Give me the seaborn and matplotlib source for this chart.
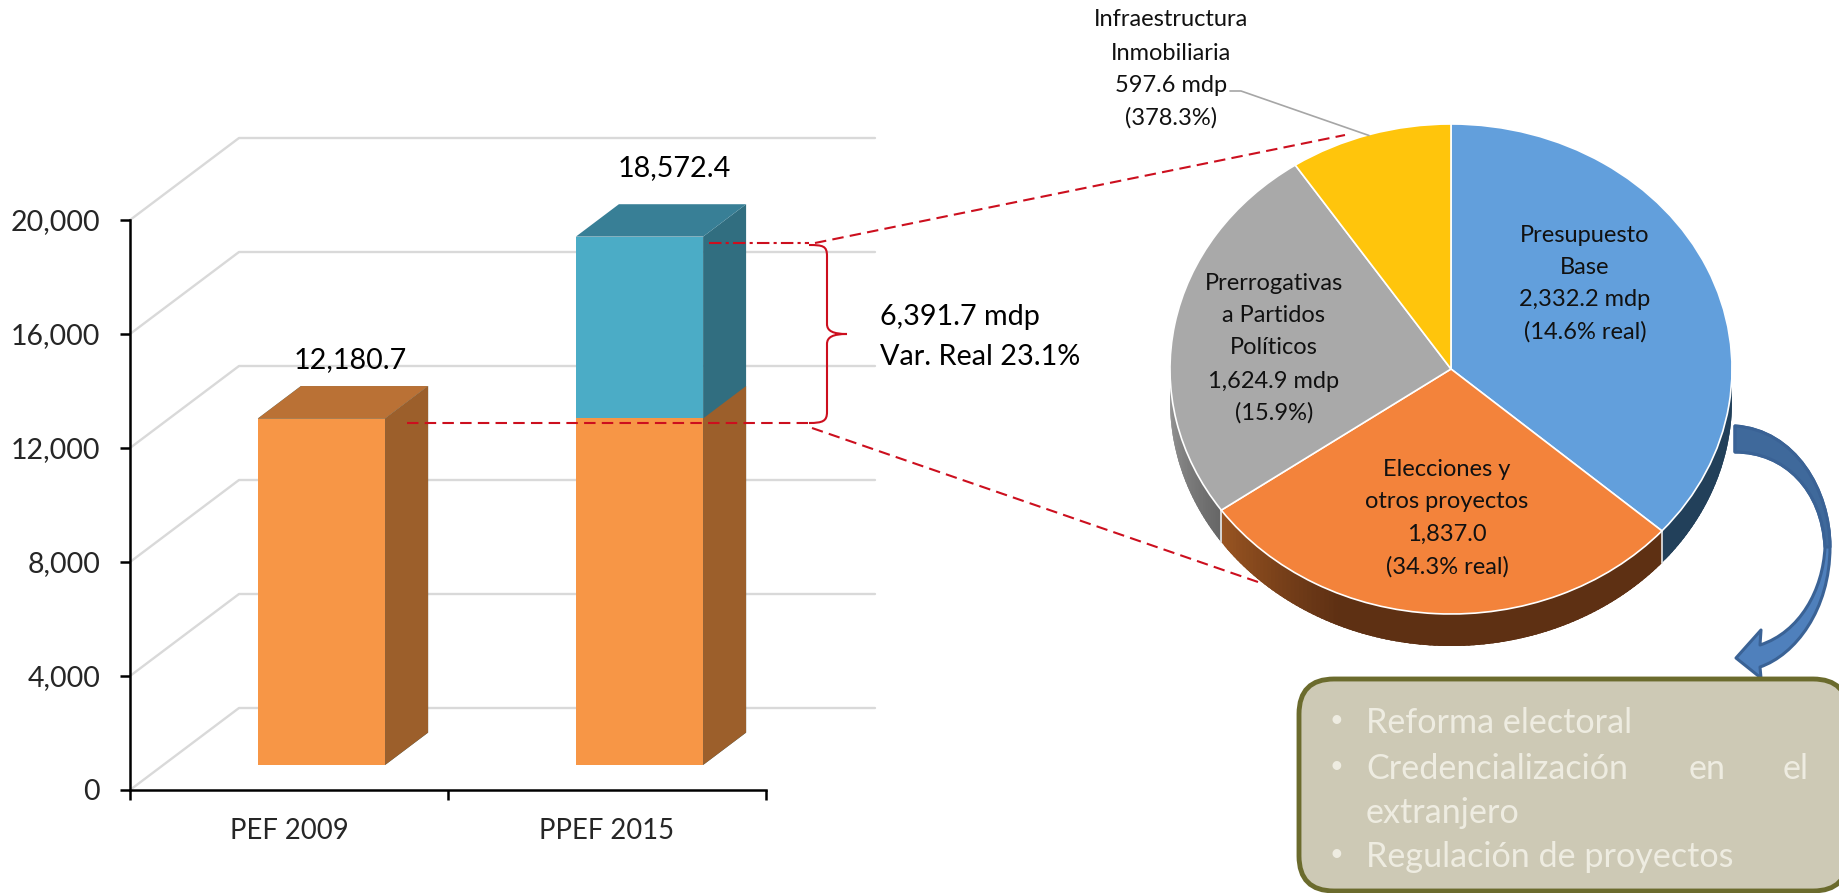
import matplotlib
matplotlib.use("Agg")
import matplotlib.pyplot as plt
import numpy as np
import seaborn as sns
from matplotlib.patches import Polygon, FancyBboxPatch, PathPatch
from matplotlib.path import Path
from matplotlib.transforms import IdentityTransform
from matplotlib.colors import to_rgb

# ---- data ----
categories = ["PEF 2009", "PPEF 2015"]
base_values = [12180.7, 12180.7]
total_values = [12180.7, 18572.4]
y_ticks = [0, 4000, 8000, 12000, 16000, 20000]

pie_names = ["Presupuesto Base", "Elecciones y otros proyectos",
             "Prerrogativas a Partidos Políticos", "Infraestructura Inmobiliaria"]
pie_values = [2332.2, 1837.0, 1624.9, 597.6]

diff_text = ["6,391.7 mdp", "Var. Real 23.1%"]
label_presupuesto = ["Presupuesto", "Base", "2,332.2 mdp", "(14.6% real)"]
label_elecciones = ["Elecciones y", "otros proyectos", "1,837.0", "(34.3% real)"]
label_prerrogativas = ["Prerrogativas", "a Partidos", "Políticos", "1,624.9 mdp", "(15.9%)"]
label_infra = ["Infraestructura", "Inmobiliaria", "597.6 mdp", "(378.3%)"]
box_items = ["Reforma electoral", "extranjero", "Regulación de proyectos"]
box_justified = ["Credencialización", "en", "el"]

# ---- style ----
W, H = 1839, 893
sns.set_style("white")
plt.rcParams["font.family"] = ["Lato", "DejaVu Sans"]
fig = plt.figure(figsize=(W / 100, H / 100), dpi=100, facecolor="white")


def axes_px(x0, y0, x1, y1, **kw):
    return fig.add_axes([x0 / W, 1 - y1 / H, (x1 - x0) / W, (y1 - y0) / H], **kw)


ORANGE, ORANGE_TOP, ORANGE_SIDE = "#F79646", "#BA7135", "#9C5F2B"
TEAL, TEAL_TOP, TEAL_SIDE = "#4BACC6", "#387F96", "#316E80"
GRID = "#D9D9D9"
RED = "#CC0F1E"
AXFS, TXFS, PIEFS = 20.5, 20.7, 17

# ---- main axes (front plane with ticks, back wall grid) ----
ax = axes_px(130, 220, 766, 790)
ax.set_zorder(1)
ax.set_xlim(-0.5, 1.5)
ax.set_ylim(0, 20000)
ax.patch.set_alpha(0)
for s in ["top", "right"]:
    ax.spines[s].set_visible(False)
for s in ["left", "bottom"]:
    ax.spines[s].set_linewidth(1.8)
    ax.spines[s].set_color("black")
ax.set_yticks(y_ticks)
ax.set_yticklabels([f"{v:,}" for v in y_ticks], fontsize=AXFS)
ax.set_xticks([-0.5, 0.5, 1.5])
ax.set_xticklabels([])
ax.set_xticks([0, 1], minor=True)
ax.set_xticklabels(categories, minor=True, fontsize=19.8)
ax.tick_params(axis="y", length=7, width=1.8, pad=14.5, left=True, color="black")
ax.tick_params(axis="x", which="major", length=7.5, width=1.8, bottom=True, color="black")
ax.tick_params(axis="x", which="minor", length=0, pad=20)

DEPTH_X, DEPTH_Y = 109, 82   # wall offset in pixels
for v in y_ticks:
    x0, y0 = ax.transData.transform((-0.5, v))
    xa, ya = x0 + DEPTH_X, y0 + DEPTH_Y
    fig.add_artist(plt.Line2D([x0, xa, 875], [y0, ya, ya], color=GRID, lw=1.7,
                              transform=IdentityTransform(), zorder=0))

# ---- stacked bars, shifted to the middle of the 3D depth ----
ax_bar = axes_px(162.5, 196, 798.5, 765)
ax_bar.set_zorder(2)
sns.barplot(x=categories, y=total_values, color=TEAL, width=0.4, saturation=1, ax=ax_bar,
            linewidth=0, edgecolor="none")
n_total = len(ax_bar.patches)
sns.barplot(x=categories, y=base_values, color=ORANGE, width=0.4, saturation=1, ax=ax_bar,
            linewidth=0, edgecolor="none")
ax_bar.set_xlim(-0.5, 1.5)
ax_bar.set_ylim(0, 20000)
ax_bar.axis("off")

DX, DY = 43, 32.4
for k, p in enumerate(list(ax_bar.patches)):
    is_total = k < n_total
    i = k if is_total else k - n_total
    (xl, yb) = ax_bar.transData.transform((p.get_x(), p.get_y()))
    (xr, yt) = ax_bar.transData.transform((p.get_x() + p.get_width(), p.get_y() + p.get_height()))
    side_col = TEAL_SIDE if is_total else ORANGE_SIDE
    top_col = TEAL_TOP if is_total else ORANGE_TOP
    z = 1.5 if is_total else 1.6
    ax_bar.add_artist(Polygon([(xr, yb), (xr + DX, yb + DY), (xr + DX, yt + DY), (xr, yt)],
                              closed=True, fc=side_col, ec="none", zorder=z,
                              transform=IdentityTransform(), clip_on=False))
    if is_total or base_values[i] >= total_values[i]:
        ax_bar.add_artist(Polygon([(xl, yt), (xl + DX, yt + DY), (xr + DX, yt + DY), (xr, yt)],
                                  closed=True, fc=top_col, ec="none", zorder=z,
                                  transform=IdentityTransform(), clip_on=False))

label_offsets = [(29, 58), (35, 69)]
for i, v in enumerate(total_values):
    ax_bar.annotate(f"{v:,.1f}", xy=(i, v), xytext=label_offsets[i],
                    textcoords="offset pixels", ha="center", va="center",
                    fontsize=TXFS, color="black", annotation_clip=False, zorder=5)

# ---- pixel overlay below the pie ----
under = axes_px(0, 0, W, H)
under.set_zorder(3)
under.set_xlim(0, W)
under.set_ylim(H, 0)
under.axis("off")
DASH = (0, (5.5, 3))
under.plot([407, 809], [423, 423], color=RED, lw=1.5, ls=DASH)
under.plot([709, 809], [243, 243], color=RED, lw=1.5, ls=(0, (6, 2, 1.5, 2)))
under.plot([815, 1345], [243, 135], color=RED, lw=1.5, ls=DASH)
under.plot([812, 1258], [428, 582], color=RED, lw=1.5, ls=DASH)
# brace
brace = Path([(809, 245), (823, 245), (827, 246), (827, 256),
              (827, 324),
              (827, 331), (833, 334), (847, 334),
              (833, 334), (827, 337), (827, 344),
              (827, 412),
              (827, 421), (823, 423), (809, 423)],
             [Path.MOVETO, Path.CURVE4, Path.CURVE4, Path.CURVE4,
              Path.LINETO,
              Path.CURVE4, Path.CURVE4, Path.CURVE4,
              Path.CURVE4, Path.CURVE4, Path.CURVE4,
              Path.LINETO,
              Path.CURVE4, Path.CURVE4, Path.CURVE4])
under.add_patch(PathPatch(brace, fc="none", ec=RED, lw=1.5))
for t, y in zip(diff_text, [317, 357]):
    under.text(880, y, t, fontsize=TXFS, ha="left", va="center", color="black")

# ---- pie ----
CX, CY, RX, RY = 1451, 369, 281, 245
PIE_DEPTH = 32
ax_pie = axes_px(CX - RX, CY - RY, CX + RX, CY + RY)
ax_pie.set_zorder(4)
ax_pie.patch.set_alpha(0)
pie_colors = ["#629FDC", "#F3833B", "#A9A9A9", "#FFC50C"]
wedges, _ = ax_pie.pie(pie_values, colors=pie_colors, startangle=90, counterclock=False,
                       radius=1, wedgeprops=dict(edgecolor="white", linewidth=1.2))
ax_pie.set_aspect("auto")
ax_pie.set_xlim(-1, 1)
ax_pie.set_ylim(-1, 1)
ax_pie.axis("off")
for w in wedges:
    w.set_zorder(3)
    w.set_clip_on(False)


def mix(a, b, f):
    return tuple(np.array(to_rgb(a)) * (1 - f) + np.array(to_rgb(b)) * f)


def rim_colour(i, frac):
    """frac runs from the left end of the rim piece to its right end."""
    if i == 0:
        return "#22405A"
    if i == 1:
        return mix("#9A5522", "#5E3013", min(frac / 0.3, 1))
    return mix("#9C9C9C", "#666666", frac)


for i, w in enumerate(wedges[:3]):
    t1, t2 = w.theta1 % 360, w.theta2 % 360
    if t2 <= t1:
        t2 += 360
    if i == 0:                  # blue wraps through 360: keep the front part only
        a0, a1 = t1, 360
    else:
        a0, a1 = max(t1, 180), min(t2, 360)
    n = max(int(a1 - a0), 2)
    edges = np.linspace(a0, a1, n + 1)
    for j in range(n):
        seg = np.radians(np.linspace(edges[j], min(edges[j + 1] + 1.5, a1), 5))
        rim_top = ax_pie.transData.transform(np.c_[np.cos(seg), np.sin(seg)])
        rim_bot = rim_top[::-1] - np.array([0, PIE_DEPTH])
        ax_pie.add_artist(Polygon(np.r_[rim_top, rim_bot], closed=True,
                                  fc=rim_colour(i, (j + 0.5) / n), ec="none",
                                  transform=IdentityTransform(), clip_on=False, zorder=1 + j * 1e-3))

# seams on the rim, at both ends of the orange wedge
for ang in (wedges[1].theta1, wedges[1].theta2):
    a = np.radians(ang)
    p0 = ax_pie.transData.transform((np.cos(a), np.sin(a)))
    ax_pie.add_artist(plt.Line2D([p0[0], p0[0]], [p0[1], p0[1] - PIE_DEPTH], color="#E8E8E8", lw=1.2,
                                 transform=IdentityTransform(), clip_on=False, zorder=2))

# ---- pixel overlay above the pie ----
top = axes_px(0, 0, W, H)
top.set_zorder(5)
top.set_xlim(0, W)
top.set_ylim(H, 0)
top.axis("off")
TXT = dict(ha="center", va="center", color="#111111", fontsize=PIEFS)
for lines, cx, ys in [(label_presupuesto, 1585, [235, 267, 300, 332]),
                      (label_elecciones, 1447, [470, 501, 534, 567]),
                      (label_prerrogativas, 1274, [284, 316, 348, 381, 413]),
                      (label_infra, 1171, [20, 53, 86, 118])]:
    for t, y in zip(lines, ys):
        top.text(cx, y, t, **TXT)
top.plot([1230, 1241, 1369], [91, 91, 135.5], color="#A6A6A6", lw=1.2)

# curved arrow
whole = Path([(1735, 426), (1795, 430), (1830, 490), (1830, 547),
              (1830, 610), (1795, 655), (1760, 667),
              (1761, 678), (1736, 658), (1761, 630), (1760, 645),
              (1800, 632), (1823, 590), (1825, 547),
              (1822, 490), (1785, 452), (1735, 452), (1735, 426)],
             [Path.MOVETO, Path.CURVE4, Path.CURVE4, Path.CURVE4,
              Path.CURVE4, Path.CURVE4, Path.CURVE4,
              Path.LINETO, Path.LINETO, Path.LINETO, Path.LINETO,
              Path.CURVE4, Path.CURVE4, Path.CURVE4,
              Path.CURVE4, Path.CURVE4, Path.CURVE4, Path.CLOSEPOLY])
upper = Path([(1735, 426), (1795, 430), (1830, 490), (1830, 547),
              (1825, 547),
              (1822, 490), (1785, 452), (1735, 452), (1735, 426)],
             [Path.MOVETO, Path.CURVE4, Path.CURVE4, Path.CURVE4,
              Path.LINETO,
              Path.CURVE4, Path.CURVE4, Path.CURVE4, Path.CLOSEPOLY])
top.add_patch(PathPatch(whole, fc="#4F80BC", ec="#3A6295", lw=2.2, joinstyle="round"))
top.add_patch(PathPatch(upper, fc="#3F699B", ec="#3A6295", lw=2.2, joinstyle="round"))

# box, running off the right edge of the picture
box = FancyBboxPatch((1299 + 35, 679 + 35), 1848 - 1299 - 70, 891 - 679 - 70,
                     boxstyle="round,pad=35,rounding_size=35", fc="#CDC9B5", ec="#6B6B2D", lw=3.5)
top.add_patch(box)
BOXTXT = dict(fontsize=24.6, color="#EEECE1", ha="left", va="center")
for t, y in zip(box_items, [723, 813, 857]):
    top.text(1366, y, t, **BOXTXT)
for t, x in zip(box_justified, [1366, 1689, 1783]):
    top.text(x, 769, t, **BOXTXT)
for y in [720, 766, 854]:
    top.text(1336, y, "•", fontsize=17, color="#EEECE1", ha="center", va="center")

fig.savefig("out.png", dpi=100)
